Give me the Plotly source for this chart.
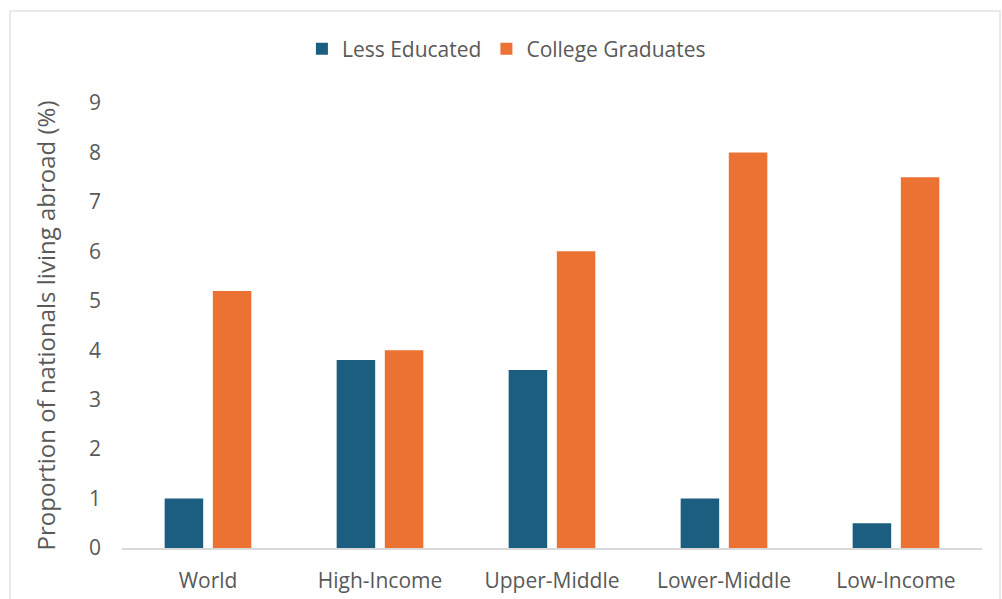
import plotly.graph_objects as go

categories = ["World", "High-Income", "Upper-Middle", "Lower-Middle", "Low-Income"]
less_educated = [1.0, 3.8, 3.6, 1.0, 0.5]
college_graduates = [5.2, 4.0, 6.0, 8.0, 7.5]
y_ticks = [0, 1, 2, 3, 4, 5, 6, 7, 8, 9]

BLUE = "#1b5e80"
ORANGE = "#ec7233"
TEXT = "#595959"
FONT = "Open Sans, Noto Sans, sans-serif"

fig = go.Figure()
fig.add_trace(go.Bar(name="Less Educated", x=categories, y=less_educated,
                     marker=dict(color=BLUE, line=dict(width=0))))
fig.add_trace(go.Bar(name="College Graduates", x=categories, y=college_graduates,
                     marker=dict(color=ORANGE, line=dict(width=0))))

fig.update_layout(
    width=1002, height=599,
    margin=dict(l=122, r=20, t=103, b=51, autoexpand=False),
    paper_bgcolor="white", plot_bgcolor="white",
    barmode="group", bargap=0.44, bargroupgap=0.2,
    font=dict(family=FONT, color=TEXT, size=20),
    legend=dict(orientation="h", x=0.447, xanchor="center", y=1.121, yanchor="middle",
                font=dict(size=21, color=TEXT), itemwidth=30, traceorder="normal"),
    xaxis=dict(showgrid=False, showline=True, linecolor="#d9d9d9", linewidth=1.5,
               automargin=False,
               ticks="", tickfont=dict(size=21, color=TEXT), ticklabelstandoff=13),
    yaxis=dict(range=[0, 9], tickvals=y_ticks, showgrid=False, zeroline=False,
               showline=False, ticks="", tickfont=dict(size=21, color=TEXT),
               automargin=False, ticklabelstandoff=20,
               title=dict(text="Proportion of nationals living abroad (%)",
                          font=dict(size=24, color=TEXT), standoff=26)),
    shapes=[dict(type="rect", xref="paper", yref="paper",
                 x0=-0.1302, x1=1.021, y0=-0.3, y1=1.2067,
                 line=dict(color="#e3e3e3", width=1.5), fillcolor="rgba(0,0,0,0)",
                 layer="below")],
)

fig.write_html("out.html")
